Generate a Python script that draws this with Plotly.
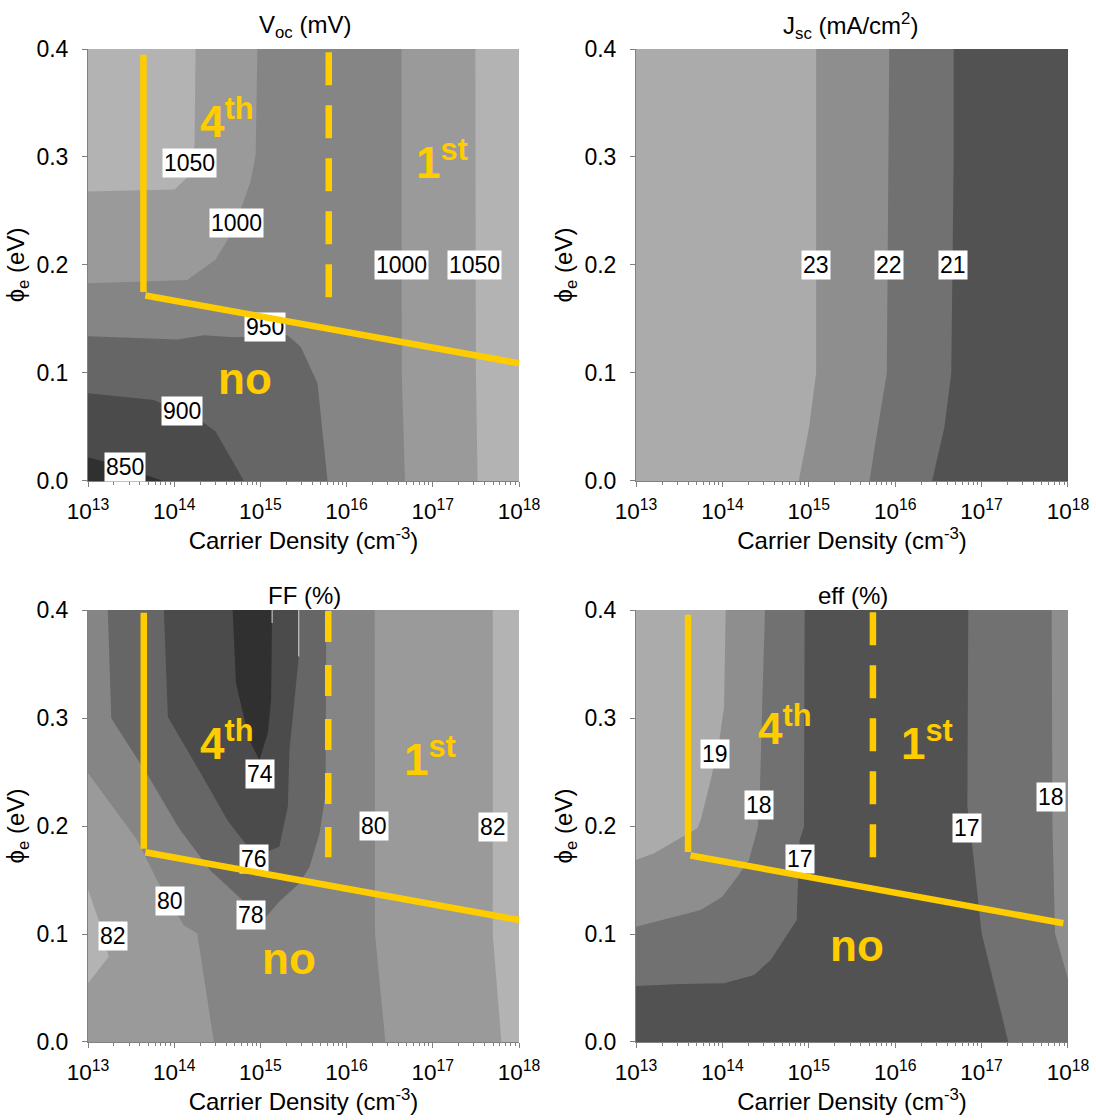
import plotly.graph_objects as go

FONT = "Liberation Sans, Arial, sans-serif"
GOLD = "#FFCC00"

X_RANGE = [13, 18]          # log10 of carrier density
Y_RANGE = [0.0, 0.4]        # phi_e (eV)

x_tick_exps = [13, 14, 15, 16, 17, 18]
x_tick_text = ["10<sup>13</sup>", "10<sup>14</sup>", "10<sup>15</sup>",
               "10<sup>16</sup>", "10<sup>17</sup>", "10<sup>18</sup>"]
y_tick_vals = [0.0, 0.1, 0.2, 0.3, 0.4]
y_tick_text = ["0.0", "0.1", "0.2", "0.3", "0.4"]

panel_titles = ["V<sub>oc</sub> (mV)", "J<sub>sc</sub> (mA/cm<sup>2</sup>)", "FF (%)", "eff (%)"]

# ---------------- Voc (mV) contour regions: log10(density), phi ----------------
voc_base_color = "#858585"  # 950-1000
voc_ge1000_left_exp = [13, 14.965, 14.945, 14.887, 14.791, 14.655, 14.48, 14.151, 13]
voc_ge1000_left_phi = [0.4, 0.4, 0.302, 0.2775, 0.256, 0.228, 0.205, 0.186, 0.183]
voc_ge1050_left_exp = [13, 14.248, 14.236, 14.151, 14.004, 13]
voc_ge1050_left_phi = [0.4, 0.4, 0.311, 0.281, 0.270, 0.268]
voc_ge1000_right_exp = [16.637, 16.64, 16.677, 18, 18]
voc_ge1000_right_phi = [0.4, 0.1, 0.0, 0.0, 0.4]
voc_ge1050_right_exp = [17.493, 17.50, 17.52, 18, 18]
voc_ge1050_right_phi = [0.4, 0.1, 0.0, 0.0, 0.4]
voc_le950_exp = [13, 14.035, 14.345, 14.694, 15.314, 15.469, 15.663, 15.779, 13]
voc_le950_phi = [0.134, 0.131, 0.135, 0.133, 0.135, 0.124, 0.0904, 0.0, 0.0]
voc_le900_exp = [13, 13.764, 14.326, 14.48, 14.81, 13]
voc_le900_phi = [0.0812, 0.075, 0.0549, 0.0457, 0.0, 0.0]
voc_le850_exp = [13, 13.415, 13.87, 13]
voc_le850_phi = [0.022, 0.013, 0.0, 0.0]

voc_label_text = ["1050", "1000", "1000", "1050", "950", "900", "850"]
voc_label_exp = [14.174, 14.725, 16.634, 17.483, 15.05, 14.093, 13.434]
voc_label_phi = [0.294, 0.239, 0.2, 0.2, 0.143, 0.065, 0.0127]

# ---------------- Jsc (mA/cm2) ----------------
jsc_base_color = "#ababab"  # > 23
jsc_le23_exp = [15.085, 15.085, 15.004, 14.883, 18, 18]
jsc_le23_phi = [0.4, 0.1, 0.05, 0.0, 0.0, 0.4]
jsc_le22_exp = [15.931, 15.92, 15.903, 15.80, 15.702, 18, 18]
jsc_le22_phi = [0.4, 0.3, 0.1, 0.05, 0.0, 0.0, 0.4]
jsc_le21_exp = [16.677, 16.677, 16.649, 16.57, 16.427, 18, 18]
jsc_le21_phi = [0.4, 0.3, 0.1, 0.05, 0.0, 0.0, 0.4]

jsc_label_text = ["23", "22", "21"]
jsc_label_exp = [15.08, 15.93, 16.67]
jsc_label_phi = [0.2, 0.2, 0.2]

# ---------------- FF (%) ----------------
ff_base_color = "#858585"  # 78-80
ff_ge80_left_exp = [13, 13.57, 13.80, 14.11, 14.267, 14.326, 14.46, 13]
ff_ge80_left_phi = [0.249, 0.187, 0.15, 0.108, 0.1006, 0.0697, 0.0, 0.0]
ff_ge82_left_exp = [13, 13.163, 13.24, 13]
ff_ge82_left_phi = [0.1414, 0.1037, 0.079, 0.0543]
ff_ge80_right_exp = [16.326, 16.33, 16.45, 18, 18]
ff_ge80_right_phi = [0.4, 0.1, 0.0, 0.0, 0.4]
ff_ge82_right_exp = [17.695, 17.695, 17.796, 18, 18]
ff_ge82_right_phi = [0.4, 0.1, 0.0, 0.0, 0.4]
ff_le78_exp = [13.23, 13.27, 13.684, 14.05, 14.417, 14.824, 15.068, 15.22, 15.453, 15.57, 15.686, 15.756, 15.764]
ff_le78_phi = [0.4, 0.2997, 0.2483, 0.1987, 0.159, 0.129, 0.1159, 0.13, 0.147, 0.162, 0.193, 0.23, 0.4]
ff_le76_exp = [13.88, 13.927, 14.306, 14.616, 14.85, 14.93, 15.22, 15.318, 15.337, 15.40, 15.445, 15.445]
ff_le76_phi = [0.4, 0.301, 0.249, 0.2056, 0.181, 0.171, 0.181, 0.218, 0.27, 0.317, 0.357, 0.4]
ff_le74_exp = [14.678, 14.717, 14.872, 14.988, 15.085, 15.124, 15.136]
ff_le74_phi = [0.4, 0.332, 0.2796, 0.261, 0.286, 0.3167, 0.4]
ff_seam_exp = [15.136, 15.445]
ff_seam_top_phi = [0.4, 0.4]
ff_seam_bottom_phi = [0.388, 0.357]

ff_label_text = ["82", "80", "78", "76", "74", "80", "82"]
ff_label_exp = [13.29, 13.948, 14.89, 14.927, 14.994, 16.318, 17.70]
ff_label_phi = [0.098, 0.131, 0.1176, 0.1694, 0.248, 0.2, 0.1995]

# ---------------- eff (%) ----------------
eff_base_color = "#525252"  # < 17
eff_ge17_left_exp = [13, 14.952, 14.944, 14.894, 14.867, 14.86, 14.559, 14.366, 14.019, 13.517, 13]
eff_ge17_left_phi = [0.4, 0.4, 0.1994, 0.187, 0.1315, 0.113, 0.0759, 0.062, 0.0543, 0.0537, 0.0519]
eff_ge18_left_exp = [13, 14.493, 14.46, 14.435, 14.412, 14.308, 14.173, 13.999, 13.749, 13.362, 13]
eff_ge18_left_phi = [0.4, 0.4, 0.31, 0.2364, 0.1994, 0.1685, 0.153, 0.1345, 0.1222, 0.1145, 0.1068]
eff_ge19_left_exp = [13, 14.038, 14.019, 13.96, 13.864, 13.749, 13.71, 13.478, 13.208, 13]
eff_ge19_left_phi = [0.4, 0.4, 0.3105, 0.2765, 0.2426, 0.2056, 0.198, 0.187, 0.1747, 0.1685]
eff_ge17_right_exp = [16.846, 16.835, 16.885, 17.0, 17.309, 18, 18]
eff_ge17_right_phi = [0.4, 0.218, 0.187, 0.1006, 0.0, 0.0, 0.4]
eff_ge18_right_exp = [17.811, 17.82, 17.85, 18, 18]
eff_ge18_right_phi = [0.4, 0.2, 0.1006, 0.058, 0.4]

eff_label_text = ["19", "18", "17", "17", "18"]
eff_label_exp = [13.918, 14.427, 14.902, 16.83, 17.80]
eff_label_phi = [0.267, 0.2194, 0.169, 0.198, 0.227]

# ---------------- yellow boundary lines and region names ----------------
voc_vert_exp, voc_vert_phi = [13.643, 13.643], [0.396, 0.175]
voc_diag_exp, voc_diag_phi = [13.648, 18.0], [0.172, 0.109]
voc_dash_exp, voc_dash_phi = [15.793, 15.793], [0.397, 0.167]
ff_vert_exp, ff_vert_phi = [13.647, 13.647], [0.399, 0.179]
ff_diag_exp, ff_diag_phi = [13.647, 18.0], [0.176, 0.113]
ff_dash_exp, ff_dash_phi = [15.787, 15.787], [0.399, 0.171]
eff_vert_exp, eff_vert_phi = [13.602, 13.602], [0.397, 0.176]
eff_diag_exp, eff_diag_phi = [13.613, 17.946], [0.173, 0.110]
eff_dash_exp, eff_dash_phi = [15.742, 15.742], [0.398, 0.167]

zone_text = ["<b>4<sup>th</sup></b>", "<b>1<sup>st</sup></b>", "<b>no</b>"]
voc_zone_exp, voc_zone_phi = [14.608, 17.104, 14.824], [0.336, 0.298, 0.0947]
ff_zone_exp, ff_zone_phi = [14.608, 16.97, 15.333], [0.2795, 0.2646, 0.0772]
eff_zone_exp, eff_zone_phi = [14.72, 16.367, 15.56], [0.2927, 0.2788, 0.0894]

# ---------------- figure assembly ----------------
C_LIGHT, C_2, C_3, C_4, C_5, C_DARK = "#b3b3b3", "#9a9a9a", "#858585", "#666666", "#4b4b4b", "#303030"
Q_LIGHT, Q_2, Q_3, Q_DARK = "#ababab", "#8e8e8e", "#717171", "#525252"

panels = [
    dict(ax="", base=voc_base_color,
         regions=[(voc_ge1000_left_exp, voc_ge1000_left_phi, C_2),
                  (voc_ge1050_left_exp, voc_ge1050_left_phi, C_LIGHT),
                  (voc_ge1000_right_exp, voc_ge1000_right_phi, C_2),
                  (voc_ge1050_right_exp, voc_ge1050_right_phi, C_LIGHT),
                  (voc_le950_exp, voc_le950_phi, C_4),
                  (voc_le900_exp, voc_le900_phi, C_5),
                  (voc_le850_exp, voc_le850_phi, C_DARK)],
         labels=(voc_label_text, voc_label_exp, voc_label_phi),
         lines=(voc_vert_exp, voc_vert_phi, voc_diag_exp, voc_diag_phi, voc_dash_exp, voc_dash_phi, "33px,20px"),
         zones=(voc_zone_exp, voc_zone_phi)),
    dict(ax="2", base=jsc_base_color,
         regions=[(jsc_le23_exp, jsc_le23_phi, Q_2),
                  (jsc_le22_exp, jsc_le22_phi, Q_3),
                  (jsc_le21_exp, jsc_le21_phi, Q_DARK)],
         labels=(jsc_label_text, jsc_label_exp, jsc_label_phi),
         lines=None, zones=None),
    dict(ax="3", base=ff_base_color,
         regions=[(ff_ge80_left_exp, ff_ge80_left_phi, C_2),
                  (ff_ge82_left_exp, ff_ge82_left_phi, C_LIGHT),
                  (ff_ge80_right_exp, ff_ge80_right_phi, C_2),
                  (ff_ge82_right_exp, ff_ge82_right_phi, C_LIGHT),
                  (ff_le78_exp, ff_le78_phi, C_4),
                  (ff_le76_exp, ff_le76_phi, C_5),
                  (ff_le74_exp, ff_le74_phi, C_DARK)],
         labels=(ff_label_text, ff_label_exp, ff_label_phi),
         lines=(ff_vert_exp, ff_vert_phi, ff_diag_exp, ff_diag_phi, ff_dash_exp, ff_dash_phi, "31px,23px"),
         zones=(ff_zone_exp, ff_zone_phi)),
    dict(ax="4", base=eff_base_color,
         regions=[(eff_ge17_left_exp, eff_ge17_left_phi, Q_3),
                  (eff_ge18_left_exp, eff_ge18_left_phi, Q_2),
                  (eff_ge19_left_exp, eff_ge19_left_phi, Q_LIGHT),
                  (eff_ge17_right_exp, eff_ge17_right_phi, Q_3),
                  (eff_ge18_right_exp, eff_ge18_right_phi, Q_2)],
         labels=(eff_label_text, eff_label_exp, eff_label_phi),
         lines=(eff_vert_exp, eff_vert_phi, eff_diag_exp, eff_diag_phi, eff_dash_exp, eff_dash_phi, "33px,20px"),
         zones=(eff_zone_exp, eff_zone_phi)),
]

fig = go.Figure()
annotations = []
arrow_annotations = []


def add_poly(exps, phis, color, ax):
    fig.add_trace(go.Scatter(
        x=[10 ** e for e in exps], y=phis, mode="lines", fill="toself",
        fillcolor=color, line=dict(width=0, color=color),
        hoverinfo="skip", showlegend=False,
        xaxis="x" + ax, yaxis="y" + ax))


for p in panels:
    ax = p["ax"]
    add_poly([X_RANGE[0], X_RANGE[1], X_RANGE[1], X_RANGE[0]],
             [Y_RANGE[0], Y_RANGE[0], Y_RANGE[1], Y_RANGE[1]], p["base"], ax)
    for exps, phis, col in p["regions"]:
        add_poly(exps, phis, col, ax)
    if ax == "3":
        for e, yt, yb in zip(ff_seam_exp, ff_seam_top_phi, ff_seam_bottom_phi):
            fig.add_trace(go.Scatter(x=[10 ** e, 10 ** e], y=[yt, yb], mode="lines",
                                     line=dict(width=1, color="#d8d8d8"), hoverinfo="skip",
                                     showlegend=False, xaxis="x3", yaxis="y3"))
    texts, lex, lphi = p["labels"]
    for t, e, y in zip(texts, lex, lphi):
        annotations.append(dict(text=t, x=e, y=y, xref="x" + ax, yref="y" + ax,
                                showarrow=False, bgcolor="white", borderpad=1,
                                font=dict(family=FONT, size=23, color="black"),
                                xanchor="center", yanchor="middle"))
    if p["lines"]:
        vx, vy, dx, dy, sx, sy, dash = p["lines"]
        fig.add_trace(go.Scatter(x=[10 ** e for e in sx], y=sy, mode="lines",
                                 line=dict(color=GOLD, width=6.5, dash=dash),
                                 hoverinfo="skip", showlegend=False,
                                 xaxis="x" + ax, yaxis="y" + ax))
        for lx, ly in ((vx, vy), (dx, dy)):
            arrow_annotations.append(dict(text="", x=lx[1], y=ly[1], ax=lx[0], ay=ly[0],
                                          xref="x" + ax, yref="y" + ax, axref="x" + ax, ayref="y" + ax,
                                          showarrow=True, arrowhead=0, arrowwidth=6.5,
                                          arrowcolor=GOLD, standoff=0, startstandoff=0))
    if p["zones"]:
        zx, zy = p["zones"]
        for t, e, y in zip(zone_text, zx, zy):
            annotations.append(dict(text=t, x=e, y=y, xref="x" + ax, yref="y" + ax,
                                    showarrow=False, font=dict(family=FONT, size=44, color=GOLD),
                                    xanchor="center", yanchor="middle"))

# margins / plot area (pixels)
M_L, M_R, M_T, M_B = 88, 28, 49, 78

# panel titles (paper coords inside the margins)
title_pos = [(0.2214, 1.0227), (0.7776, 1.0227), (0.2214, 0.4492), (0.7811, 0.4492)]
for t, (tx, ty) in zip(panel_titles, title_pos):
    annotations.append(dict(text=t, x=tx, y=ty, xref="paper", yref="paper", showarrow=False,
                            font=dict(family=FONT, size=24, color="black"),
                            xanchor="center", yanchor="middle"))

minor_vals = [k * 10 ** d for d in range(13, 18) for k in range(2, 10)]

dom_x = [[0.0, 0.4398], [0.5592, 1.0]]
dom_y = [[0.5650, 1.0], [0.0, 0.4350]]
layout_axes = {}
for i, p in enumerate(panels):
    ax = p["ax"]
    dx = dom_x[i % 2]
    dy = dom_y[i // 2]
    layout_axes["xaxis" + ax] = dict(
        domain=dx, anchor="y" + ax, type="log", range=X_RANGE, automargin=False,
        tickvals=[10 ** e for e in x_tick_exps], ticktext=x_tick_text,
        ticks="outside", ticklen=5, tickcolor="#808080", tickwidth=1,
        showline=True, linecolor="#808080", linewidth=1,
        showgrid=False, zeroline=False, fixedrange=True, ticklabelstandoff=5,
        tickfont=dict(family=FONT, size=22.5, color="black"),
        title=dict(text="Carrier Density (cm<sup>-3</sup>)",
                   font=dict(family=FONT, size=24, color="black"), standoff=8),
        minor=dict(tickvals=minor_vals, ticks="outside", ticklen=3,
                   tickcolor="#808080", showgrid=False))
    layout_axes["yaxis" + ax] = dict(
        domain=dy, anchor="x" + ax, range=Y_RANGE, automargin=False,
        tickvals=y_tick_vals, ticktext=y_tick_text,
        ticks="outside", ticklen=5, tickcolor="#808080", tickwidth=1,
        showline=True, linecolor="#808080", linewidth=1,
        showgrid=False, zeroline=False, fixedrange=True, ticklabelstandoff=9,
        tickfont=dict(family=FONT, size=23, color="black"),
        title=dict(text="ϕ<sub>e</sub> (eV)",
                   font=dict(family=FONT, size=24, color="black"), standoff=5))

fig.update_layout(
    width=1096, height=1120, margin=dict(l=M_L, r=M_R, t=M_T, b=M_B, autoexpand=False),
    paper_bgcolor="white", plot_bgcolor="white",
    font=dict(family=FONT, color="black"),
    showlegend=False,
    annotations=annotations + arrow_annotations,
    **layout_axes)

fig.write_html("out.html")
